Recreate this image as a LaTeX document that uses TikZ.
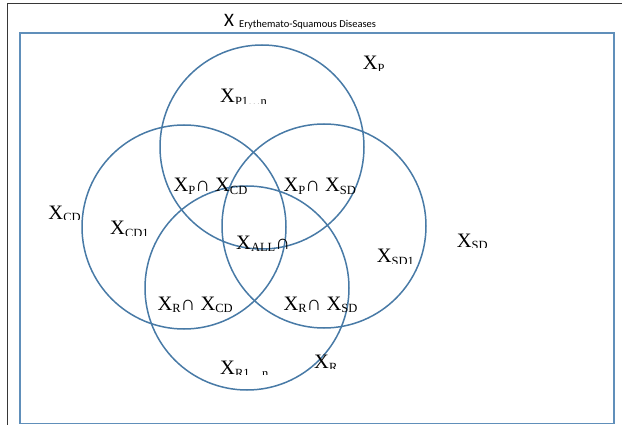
\documentclass[tikz,border=0pt]{standalone}
\usepackage{fontspec}
\setmainfont{Liberation Serif}
\newfontfamily\calibri{Carlito}
\definecolor{vennblue}{RGB}{72,122,166}
\definecolor{boxblue}{RGB}{96,143,186}
\definecolor{framegray}{RGB}{55,55,55}

% subscript: smaller and lowered below the baseline
\newcommand\sx[1]{\raisebox{-2.7pt}{\fontsize{12.5}{12.5}\selectfont #1}}
% label whose lower part is cut off at the baseline
\newcommand\cutlabel[4]{%
  \begin{scope}
    \clip (#2-4,#3-30) rectangle (#2+90,#3+0.5);
    \node[lab] (#1) at (#2,#3) {#4};
  \end{scope}}

\tikzset{
  lab/.style={anchor=base west, inner sep=0pt, font=\fontsize{20.5}{20.5}\selectfont},
  set/.style={circle, draw=vennblue, line width=1.5pt, minimum size=204pt, inner sep=0pt},
}

\begin{document}
\begin{tikzpicture}[x=1pt, y=-1pt]
  \fill[white] (0,0) rectangle (622,425);
  \useasboundingbox (0,0) rectangle (622,425);

  % outer frame edges
  \draw[framegray, line width=1.2pt] (7.3,425) -- (7.3,3.5) -- (622,3.5);

  % universe box and its title
  \node[draw=boxblue, line width=1.7pt, rectangle, inner sep=0pt,
        minimum width=594pt, minimum height=390.5pt, anchor=north west] (U) at (19,32) {};
  \node[anchor=base west, inner sep=0pt, font=\calibri\fontsize{19}{19}\selectfont] (T) at (224,27) {X};
  \node[anchor=base west, inner sep=0pt, font=\calibri\fontsize{10.5}{10.5}\selectfont] (Tsub) at (239,27.5) {Erythemato-Squamous Diseases};

  % the four sets
  \node[set] (P)  at (262,147) {};
  \node[set] (CD) at (184,227) {};
  \node[set] (SD) at (324,226) {};
  \node[set] (R)  at (247,288) {};

  % region labels
  \cutlabel{lP}{362.7}{70}{X\sx{P}}
  \cutlabel{lPn}{220}{102.7}{X\sx{P1…n}}
  \cutlabel{lCD}{48.3}{219.3}{X\sx{CD}}
  \cutlabel{lCDn}{110}{235}{X\sx{CD1}}
  \cutlabel{lSD}{456.7}{247.3}{X\sx{SD}}
  \cutlabel{lSDn}{376.7}{262.7}{X\sx{SD1}}
  \cutlabel{lRn}{220}{374.3}{X\sx{R1…n}}
  \cutlabel{lR}{314}{368.3}{X\sx{R}}

  \node[lab] (lPCD) at (173.3,191.7) {X\sx{P}∩ X\sx{CD}};
  \node[lab] (lPSD) at (283.3,191.7) {X\sx{P}∩ X\sx{SD}};
  \node[lab] (lALL) at (236,249.3) {X\sx{ALL}∩};
  \node[lab] (lRCD) at (157.3,310) {X\sx{R}∩ X\sx{CD}};
  \node[lab] (lRSD) at (283.3,310) {X\sx{R}∩ X\sx{SD}};
\end{tikzpicture}
\end{document}
